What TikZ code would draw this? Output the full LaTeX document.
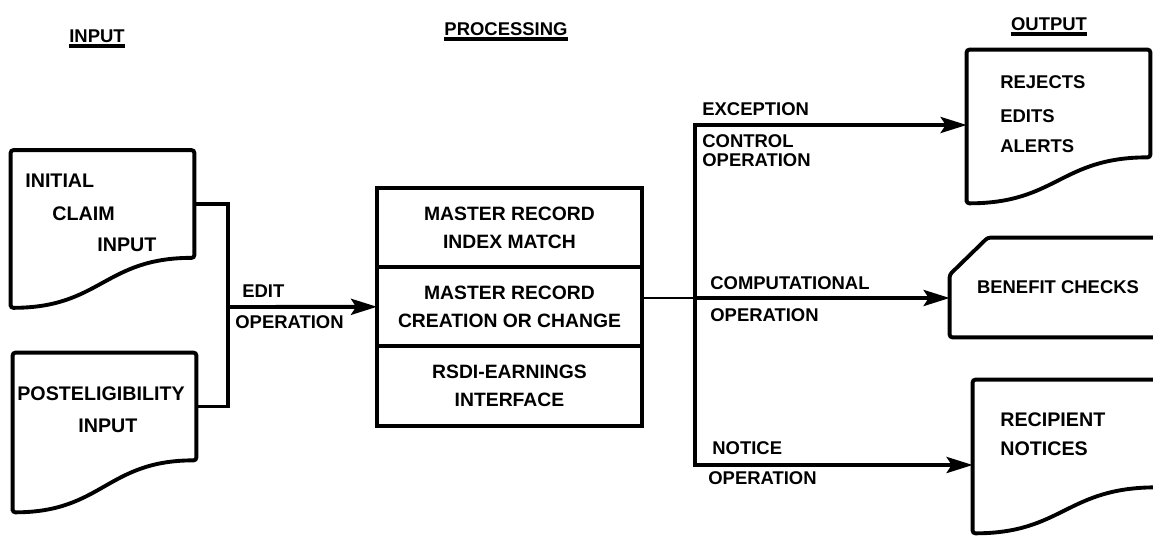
\documentclass[tikz,border=0pt]{standalone}
\usepackage{fontspec}
\setmainfont{Liberation Sans}
\usepackage{tikz}
\usetikzlibrary{arrows.meta}
\usetikzlibrary{positioning}
\newcommand{\lbl}{\fontsize{10.5}{12.5}\selectfont\bfseries}
\newcommand{\biglbl}{\fontsize{11.2}{13}\selectfont\bfseries}
\tikzset{
    doc/.style={
           rectangle,
           draw=none,
           inner sep=0pt,
           minimum width=3.66cm,
           minimum height=2.14cm,
           },
}
\tikzset{
    outline/.style={
           draw=black, line width=2.2pt,
           rounded corners=1.5pt,
           },
}
\tikzset{
    proc/.style={
           rectangle,
           draw=black, line width=2.2pt,
           outer sep=0pt,
           minimum width=5.3cm,
           minimum height=1.586cm,
           align=center,
           font=\fontsize{11}{16}\selectfont\bfseries,
           },
}
\tikzset{
    txt/.style={
           anchor=west,
           inner sep=0pt,
           font=\lbl,
           },
}
\tikzset{
    head/.style={
           inner sep=0pt,
           font=\lbl,
           },
}
\tikzset{
    bus/.style={line width=2.2pt},
    feed/.style={line width=1.5pt},
    flow/.style={line width=2.2pt, -{Stealth[length=0.52cm,width=0.32cm,inset=0.1cm]}},
    fork/.style={line width=2.2pt, {Stealth[length=0.52cm,width=0.32cm,inset=0.1cm]}-{Stealth[length=0.52cm,width=0.32cm,inset=0.1cm]}},
}

\begin{document}
\begin{tikzpicture}[x=0.02cm,y=-0.02cm]
\useasboundingbox (0,0) rectangle (1153,537);

% headings
\node[head](inhd) at (97,36){INPUT};
\node[head](prochd) at (506,29){PROCESSING};
\node[head](outhd) at (1049,24){OUTPUT};
\foreach \h in {inhd,prochd,outhd}
  \draw[line width=1.8pt] ([yshift=-1.8pt]\h.south west) -- ([yshift=-1.8pt]\h.south east);

% input documents
\node[doc](claim) at (102.5,204){};
\node[doc](post) at (104.5,406.5){};
\draw[outline] ([yshift=-1cm]claim.south west) -- (claim.north west) -- (claim.north east) -- (claim.south east)
  .. controls +(-1.8cm,0) and +(1.8cm,0) .. ([yshift=-1cm]claim.south west) -- cycle;
\draw[outline] ([yshift=-1.04cm]post.south west) -- (post.north west) -- (post.north east) -- (post.south east)
  .. controls +(-1.8cm,0) and +(1.8cm,0) .. ([yshift=-1.04cm]post.south west) -- cycle;
\node[txt,font=\biglbl](claimA) at (25,181){INITIAL};
\node[txt,font=\biglbl](claimB) at (52,214){CLAIM};
\node[txt,font=\biglbl](claimC) at (97,245){INPUT};
\node[txt,font=\biglbl](postA) at (17,394){POSTELIGIBILITY};
\node[txt,font=\biglbl](postB) at (78,426){INPUT};

% processing
\node[proc](index) at (509.5,227.5){MASTER RECORD\\INDEX MATCH};
\node[proc,below=0pt of index](create){MASTER RECORD\\CREATION OR CHANGE};
\node[proc,below=0pt of create](rsdi){RSDI-EARNINGS\\INTERFACE};

% output documents
\node[doc](rej) at (1058.5,103.5){};
\node[doc](notice) at (1064.5,433.5){};
\node[rectangle,draw=none,inner sep=0pt,minimum width=4.32cm,minimum height=1.98cm,font=\lbl](checks) at (1058,287.5){\raisebox{-4pt}{BENEFIT CHECKS}};
\draw[outline] ([yshift=-0.92cm]rej.south west) -- (rej.north west) -- (rej.north east) -- (rej.south east)
  .. controls +(-1.8cm,0) and +(1.8cm,0) .. ([yshift=-0.92cm]rej.south west) -- cycle;
\draw[outline] (notice.north east) -- (notice.north west) -- ([yshift=-0.92cm]notice.south west)
  .. controls +(1.8cm,0) and +(-1.8cm,0) .. (notice.south east);
\draw[outline] (checks.north east) -- ([xshift=0.76cm]checks.north west) -- ([yshift=-0.74cm]checks.north west)
  -- (checks.south west) -- (checks.south east);
\node[txt](rejA) at (1000,82){REJECTS};
\node[txt](rejB) at (1000,116){EDITS};
\node[txt](rejC) at (1000,146){ALERTS};
\node[txt,font=\biglbl](noticeA) at (1000,420){RECIPIENT};
\node[txt,font=\biglbl](noticeB) at (1000,449){NOTICES};

% connectors
\coordinate (edit) at (228,307);
\coordinate (bustop) at (695,125);
\coordinate (busmid) at (695,298);
\coordinate (busbot) at (695,465);
\draw[bus] (claim.east) -| (edit) |- (post.east);
\draw[flow] (edit) -- (create.west);
\draw[feed] (create.east |- busmid) -- (busmid);
\draw[fork] (rej.west |- bustop) -- (bustop) -- (busbot) -- (notice.west |- busbot);
\draw[flow] (busmid) -- (checks.west |- busmid);

% operation labels
\node[txt](editA) at (242,291){EDIT};
\node[txt](editB) at (235,322){OPERATION};
\node[txt](excA) at (702,109){EXCEPTION};
\node[txt](excB) at (702,141){CONTROL};
\node[txt](excC) at (702,160){OPERATION};
\node[txt](compA) at (710,283){COMPUTATIONAL};
\node[txt](compB) at (710,315){OPERATION};
\node[txt](notA) at (712,448){NOTICE};
\node[txt](notB) at (708,478){OPERATION};
\end{tikzpicture}
\end{document}
